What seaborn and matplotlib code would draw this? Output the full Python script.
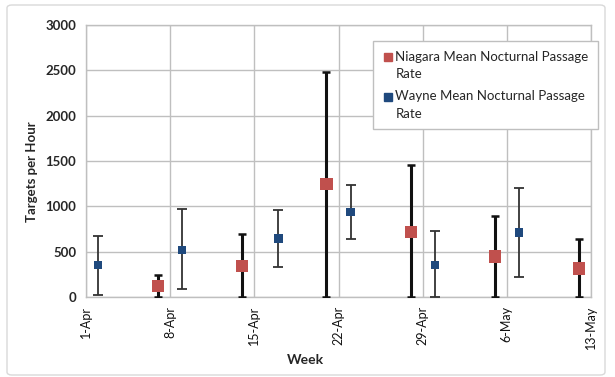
import matplotlib
matplotlib.use("Agg")
import matplotlib.pyplot as plt
import matplotlib.dates as mdates
from matplotlib.lines import Line2D
from matplotlib.legend_handler import HandlerLine2D
from matplotlib.patches import FancyBboxPatch
import seaborn as sns
import pandas as pd

# Weekly nocturnal passage rates (targets per hour) with error bar limits
week_ticks = ["2012-04-01", "2012-04-08", "2012-04-15", "2012-04-22",
              "2012-04-29", "2012-05-06", "2012-05-13"]

niagara_dates = ["2012-04-07", "2012-04-14", "2012-04-21",
                 "2012-04-28", "2012-05-05", "2012-05-12"]
niagara_mean = [124, 344, 1244, 721, 450, 318]
niagara_low = [0, 0, 0, 0, 0, 0]
niagara_high = [242, 692, 2479, 1453, 897, 637]

wayne_dates = ["2012-04-02", "2012-04-09", "2012-04-17",
               "2012-04-23", "2012-04-30", "2012-05-07"]
wayne_mean = [352, 523, 648, 937, 352, 714]
wayne_low = [25, 88, 330, 637, 0, 223]
wayne_high = [670, 967, 959, 1231, 729, 1198]

series_names = ["Niagara Mean Nocturnal Passage\nRate",
                "Wayne Mean Nocturnal Passage\nRate"]
y_ticks = [0, 500, 1000, 1500, 2000, 2500, 3000]

sns.set_style("white")
plt.rcParams["font.family"] = ["Lato", "DejaVu Sans"]

red = "#C0504D"
blue = "#1F497D"
grid_col = "#BFBFBF"


class TopLineHandler(HandlerLine2D):
    """Legend marker placed level with the first line of a wrapped label."""

    def __init__(self, shift, **kw):
        super().__init__(**kw)
        self.shift = shift

    def create_artists(self, legend, orig_handle, xdescent, ydescent,
                       width, height, fontsize, trans):
        arts = super().create_artists(legend, orig_handle, xdescent, ydescent,
                                      width, height, fontsize, trans)
        for a in arts:
            a.set_ydata([y + self.shift for y in a.get_ydata()])
        return arts


niagara = pd.DataFrame({"date": pd.to_datetime(niagara_dates),
                        "rate": niagara_mean,
                        "low": niagara_low, "high": niagara_high})
wayne = pd.DataFrame({"date": pd.to_datetime(wayne_dates),
                      "rate": wayne_mean,
                      "low": wayne_low, "high": wayne_high})

fig = plt.figure(figsize=(6.15, 3.77), dpi=100)
ax = fig.add_axes([86 / 615, 1 - 297.3 / 377, 505 / 615, 272.6 / 377])

# outer chart frame
fig.patches.append(FancyBboxPatch((7 / 615, 2 / 377), 598 / 615, 370 / 377,
                                  boxstyle="round,pad=0,rounding_size=0.008",
                                  transform=fig.transFigure, fill=False,
                                  edgecolor="#D9D9D9", linewidth=1.0))

# error bars
ax.errorbar(niagara["date"], niagara["rate"],
            yerr=[niagara["rate"] - niagara["low"], niagara["high"] - niagara["rate"]],
            fmt="none", ecolor="#111111", elinewidth=2.2, capsize=3.2,
            capthick=1.8, zorder=3)
ax.errorbar(wayne["date"], wayne["rate"],
            yerr=[wayne["rate"] - wayne["low"], wayne["high"] - wayne["rate"]],
            fmt="none", ecolor="#333333", elinewidth=1.3, capsize=3.8,
            capthick=1.3, zorder=3)

# mean markers
sns.scatterplot(data=niagara, x="date", y="rate", ax=ax, marker="s",
                s=78, color=red, edgecolor="none", zorder=4, legend=False)
sns.scatterplot(data=wayne, x="date", y="rate", ax=ax, marker="s",
                s=36, color=blue, edgecolor="none", zorder=4, legend=False)

tick_dates = pd.to_datetime(week_ticks)
ax.set_xlim(tick_dates[0], tick_dates[-1])
ax.set_xticks(tick_dates)
ax.xaxis.set_major_formatter(mdates.DateFormatter("%-d-%b"))
ax.tick_params(axis="x", labelrotation=90, labelsize=9, colors="#111111",
               length=0, pad=6)

ax.set_ylim(0, 3000)
ax.set_yticks(y_ticks)
ax.tick_params(axis="y", labelsize=9.5, length=3, color=grid_col, pad=4)
for lab in ax.get_yticklabels():
    lab.set_fontweight("bold")

ax.grid(True, color=grid_col, linewidth=1.0)
ax.set_axisbelow(True)
for sp in ax.spines.values():
    sp.set_color(grid_col)
    sp.set_linewidth(1.0)

ax.set_xlabel("Week", fontsize=10, fontweight="bold")
ax.set_ylabel("Targets per Hour", fontsize=9.5, fontweight="bold")
ax.xaxis.set_label_coords(0.434, -0.208)
ax.yaxis.set_label_coords(-0.095, 0.46)

handles = [Line2D([], [], marker="s", linestyle="none", color=red,
                  markersize=5.6),
           Line2D([], [], marker="s", linestyle="none", color=blue,
                  markersize=5.2)]
leg = ax.legend(handles, series_names, loc="upper left",
                bbox_to_anchor=(0.568, 0.941), borderaxespad=0,
                fontsize=9.5, frameon=True, fancybox=False,
                edgecolor="#BFBFBF", framealpha=1, handletextpad=0.15,
                handlelength=0.8, labelspacing=0.75, borderpad=0.75,
                handler_map={Line2D: TopLineHandler(shift=6.2)})
leg.get_frame().set_linewidth(1.0)
for t in leg.get_texts():
    t.set_linespacing(1.55)

fig.savefig("out.png", dpi=100)
